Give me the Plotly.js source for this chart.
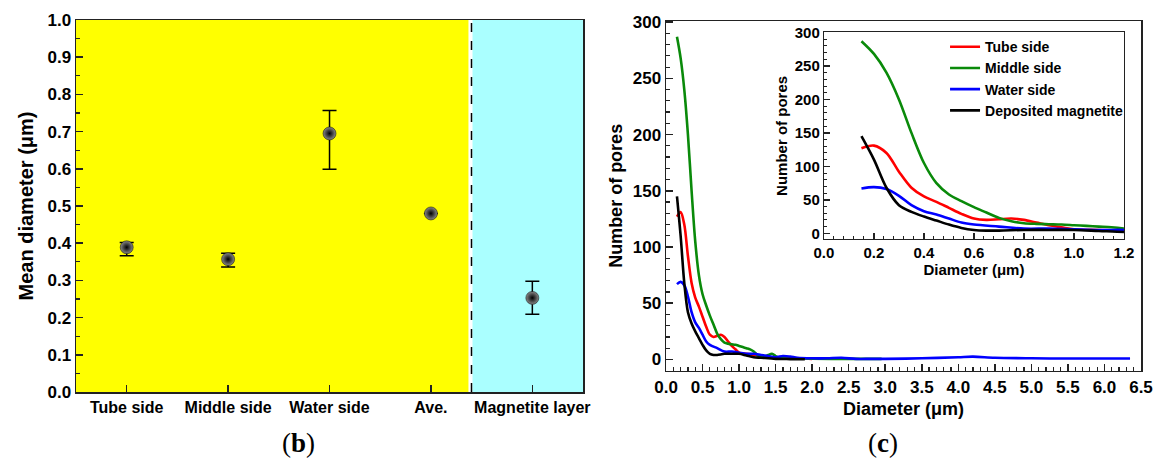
<!DOCTYPE html>
<html>
<head>
<meta charset="utf-8">
<script src="https://cdn.plot.ly/plotly-3.0.1.min.js"></script>
<style>html,body{margin:0;padding:0;background:#fff;}#chart{width:1158px;height:459px;}</style>
</head>
<body>
<div id="chart"></div>
<script>
// ---- Panel (b): mean diameter by location ----
const categories = ["Tube side", "Middle side", "Water side", "Ave.", "Magnetite layer"];
const catPos = [1, 2, 3, 4, 5];
const meanDiameter = [0.389, 0.357, 0.695, 0.480, 0.253];
const errPlus = [0.013, 0.016, 0.062, null, 0.045];
const errMinus = [0.023, 0.021, 0.096, null, 0.044];
const boundaryPos = 4.4;

// ---- Panel (c): pore size distribution ----
const tubeX = [0.15,0.2,0.25,0.3,0.35,0.4,0.45,0.5,0.55,0.6,0.65,0.7,0.75,0.8,0.85,0.9,0.95,1.0,1.1,1.2,1.3,1.4,1.5,1.6,1.7,1.8,1.9,2.0];
const tubeY = [127,131,120,92,68,55,47,38,29,22,20,21,22,20,16,12,9,6,5,4,3,2,1,1,1.5,1,0.8,0.5];

const middleX = [0.15,0.2,0.25,0.3,0.35,0.4,0.45,0.5,0.55,0.6,0.65,0.7,0.75,0.8,0.85,0.9,0.95,1.0,1.05,1.1,1.15,1.2,1.25,1.3,1.35,1.4,1.45,1.5,1.55,1.6,1.8,2.0,2.5,2.95];
const middleY = [287,268,240,200,150,105,75,58,48,39,31,23,18,15,14,13.5,13,12,11,10,9,7,4,2,2.5,4,5,3,1.5,1,0.8,0.6,0.5,0.5];

const waterX = [0.15,0.2,0.25,0.3,0.35,0.4,0.45,0.5,0.55,0.6,0.7,0.8,0.9,1.0,1.1,1.2,1.3,1.4,1.5,1.6,1.7,1.8,2.0,2.2,2.4,2.6,2.8,3.0,3.5,4.0,4.2,4.5,5.0,5.5,6.0,6.35];
const waterY = [67,69,66,56,42,33,28,22,16,13,10,7,7,6,5,5,4,3,2,3,2.5,1.5,1,1,1.5,0.5,0.5,0.5,1,2,2.5,1.5,1,0.8,0.8,0.8];

const magX = [0.15,0.2,0.25,0.3,0.35,0.4,0.45,0.5,0.55,0.6,0.65,0.7,0.8,0.9,1.0,1.1,1.2,1.3,1.5,1.7,1.9];
const magY = [145,110,68,42,32,25,19,13,8,5,4,4,5,5,5,3.5,2,1.5,0.5,0.3,0.2];

const seriesNames = ["Tube side", "Middle side", "Water side", "Deposited magnetite"];
const seriesColors = ["#ff0000", "#0a8a0a", "#0000ff", "#000000"];
const seriesX = [tubeX, middleX, waterX, magX];
const seriesY = [tubeY, middleY, waterY, magY];

const FONT = "Liberation Sans, Arial, Helvetica, sans-serif";
const SERIF = "Liberation Serif, DejaVu Serif, serif";

const traces = [];
traces.push({
  x: catPos, y: meanDiameter, type: "scatter", mode: "markers",
  xaxis: "x", yaxis: "y", showlegend: false,
  marker: {size: 13, color: "#8a8a8a", gradient: {type: "radial", color: "#000000"}, line: {width: 0.5, color: "#000"}},
  error_y: {type: "data", symmetric: false, array: errPlus, arrayminus: errMinus, color: "#000", thickness: 1.5, width: 7}
});
for (let i = 0; i < 4; i++) {
  traces.push({
    x: seriesX[i], y: seriesY[i], type: "scatter", mode: "lines",
    name: seriesNames[i], xaxis: "x2", yaxis: "y2", showlegend: false,
    line: {color: seriesColors[i], width: 2.6, shape: "spline", smoothing: 0.9}
  });
}
for (let i = 0; i < 4; i++) {
  traces.push({
    x: seriesX[i], y: seriesY[i], type: "scatter", mode: "lines",
    name: seriesNames[i], xaxis: "x3", yaxis: "y3", showlegend: true,
    line: {color: seriesColors[i], width: 2.6, shape: "spline", smoothing: 0.9}
  });
}

const axBase = {
  showgrid: false, zeroline: false, showline: true, linecolor: "#222", linewidth: 1.5,
  mirror: true, ticks: "inside", tickcolor: "#222", tickwidth: 1.5,
  tickfont: {family: FONT, size: 17, color: "#000", weight: "bold"}
};

const layout = {
  width: 1158, height: 459,
  margin: {l: 76, r: 17, t: 20, b: 67},
  paper_bgcolor: "#ffffff", plot_bgcolor: "#ffffff",
  showlegend: true,
  font: {family: FONT, color: "#000"},
  xaxis: Object.assign({}, axBase, {
    anchor: "y", domain: [0, 0.4761], range: [0.5, 5.5],
    tickmode: "array", tickvals: catPos, ticktext: categories, ticklen: 7,
    tickfont: {family: FONT, size: 16, color: "#000", weight: "bold"}
  }),
  yaxis: Object.assign({}, axBase, {
    anchor: "x", domain: [0, 1], range: [0, 1.0], dtick: 0.1, tickformat: ".1f", ticklen: 7,
    minor: {dtick: 0.05, ticks: "inside", ticklen: 4, tickcolor: "#222", tickwidth: 1.2},
    title: {text: "Mean diameter (μm)", standoff: 8, font: {family: FONT, size: 20, weight: "bold", color: "#000"}}
  }),
  xaxis2: Object.assign({}, axBase, {
    anchor: "y2", domain: [0.5540, 1], range: [0, 6.5], dtick: 0.5, tickformat: ".1f", ticklen: 7,
    minor: {dtick: 0.1, ticks: "inside", ticklen: 4, tickcolor: "#222", tickwidth: 1.2},
    title: {text: "Diameter (μm)", standoff: 7, font: {family: FONT, size: 18, weight: "bold", color: "#000"}}
  }),
  yaxis2: Object.assign({}, axBase, {
    anchor: "x2", domain: [0.0573, 0.9973], range: [-10, 301], dtick: 50, ticklen: 7,
    minor: {dtick: 10, ticks: "inside", ticklen: 4, tickcolor: "#222", tickwidth: 1.2},
    title: {text: "Number of pores", standoff: 5, font: {family: FONT, size: 18, weight: "bold", color: "#000"}}
  }),
  xaxis3: Object.assign({}, axBase, {
    anchor: "y3", domain: [0.7023, 0.9840], range: [0, 1.2], dtick: 0.2, tickformat: ".1f", ticklen: 6,
    linewidth: 1.2,
    minor: {dtick: 0.04, ticks: "inside", ticklen: 3, tickcolor: "#222", tickwidth: 1},
    tickfont: {family: FONT, size: 15, color: "#000", weight: "bold"},
    title: {text: "Diameter (μm)", standoff: 4, font: {family: FONT, size: 15, weight: "bold", color: "#000"}}
  }),
  yaxis3: Object.assign({}, axBase, {
    anchor: "x3", domain: [0.4105, 0.9664], range: [-9, 300], dtick: 50, ticklen: 6,
    linewidth: 1.2,
    minor: {dtick: 10, ticks: "inside", ticklen: 3, tickcolor: "#222", tickwidth: 1},
    tickfont: {family: FONT, size: 15, color: "#000", weight: "bold"},
    title: {text: "Number of pores", standoff: 3, font: {family: FONT, size: 15, weight: "bold", color: "#000"}}
  }),
  legend: {
    x: 0.816, y: 0.970, xanchor: "left", yanchor: "top",
    bgcolor: "rgba(0,0,0,0)", borderwidth: 0,
    font: {family: FONT, size: 14, weight: "bold", color: "#000"},
    tracegroupgap: 0
  },
  shapes: [
    {type: "rect", xref: "x", yref: "y domain", x0: 0.5, x1: boundaryPos - 0.03, y0: 0, y1: 1,
     fillcolor: "#ffff00", line: {width: 0}, layer: "below"},
    {type: "rect", xref: "x", yref: "y domain", x0: boundaryPos + 0.01, x1: 5.5, y0: 0, y1: 1,
     fillcolor: "#aaffff", line: {width: 0}, layer: "below"},
    {type: "line", xref: "x", yref: "y domain", x0: boundaryPos, x1: boundaryPos, y0: 0, y1: 1,
     line: {color: "#000", width: 1.5, dash: "dash"}, layer: "below"}
  ],
  annotations: [
    {text: "(<b>b</b>)", xref: "paper", yref: "paper", x: 0.2085, y: -0.1371, showarrow: false,
     font: {family: SERIF, size: 27, color: "#000"}, xanchor: "center", yanchor: "middle"},
    {text: "(<b>c</b>)", xref: "paper", yref: "paper", x: 0.7577, y: -0.1371, showarrow: false,
     font: {family: SERIF, size: 27, color: "#000"}, xanchor: "center", yanchor: "middle"}
  ]
};

Plotly.newPlot("chart", traces, layout, {displayModeBar: false, staticPlot: true});
</script>
</body>
</html>
